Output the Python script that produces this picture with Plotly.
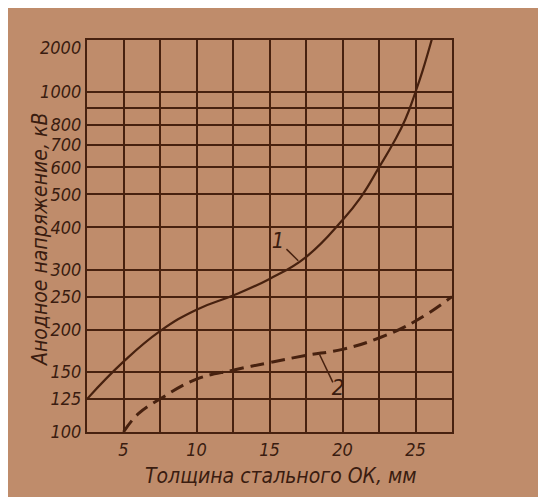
import plotly.graph_objects as go

# ---- data ----
thickness_1 = [2.5, 5, 7.5, 10, 12.5, 15, 17.5, 20, 21.25, 22.5, 23.5, 24.3, 25, 25.5, 26.1, 26.3]
voltage_1 = [125, 161, 198, 229, 252, 282, 327, 420, 490, 600, 710, 830, 1000, 1160, 1420, 1530]

thickness_2 = [5, 6, 7.5, 10, 12.5, 15, 17.5, 20, 22.5, 25, 27.5]
voltage_2 = [100, 113, 125, 143, 152, 160, 168, 175, 189, 212, 250]

x_ticks = [2.5, 5, 7.5, 10, 12.5, 15, 17.5, 20, 22.5, 25, 27.5]
x_ticktext = ["", "5", "", "10", "", "15", "", "20", "", "25", ""]
y_ticks = [100, 125, 150, 200, 250, 300, 400, 500, 600, 700, 800, 900, 1000]
y_ticktext = ["100", "125", "150", "200", "250", "300", "400", "500", "600", "700", "800", "", "1000"]
y_top_label = "2000"

label1_pos = (15.58, 360)
leader1 = ([16.16, 16.97], [345, 319])
label2_pos = (19.7, 133)
leader2 = ([18.43, 19.34], [169, 140])

x_title = "Толщина стального ОК, мм"
y_title = "Анодное напряжение, кВ"

# ---- styles ----
INK = "#47210f"
TXT = "#3a1c10"
PAPER = "#bf8c6b"
FONT = "Liberation Sans Narrow, DejaVu Sans Condensed, DejaVu Sans"

OFF = 8                      # page body margin
SW, SH = 546, 497            # window size
PL, PR, PT, PB = 87, 452, 40, 432   # plot box in window pixels
W, H = SW - OFF, SH - OFF
L, T = PL - OFF, PT - OFF
R, B = SW - PR, SH - PB
pw, ph = PR - PL, PB - PT


def fx(sx):
    return (sx - PL) / pw


def fy(sy):
    return (PB - sy) / ph


fig = go.Figure()
fig.add_trace(go.Scatter(x=thickness_1, y=voltage_1, mode="lines",
                         line=dict(color=INK, width=2.2, shape="spline", smoothing=1.3),
                         showlegend=False, hoverinfo="skip"))
fig.add_trace(go.Scatter(x=thickness_2, y=voltage_2, mode="lines",
                         line=dict(color=INK, width=3, dash="14px,7px", shape="spline", smoothing=1.2),
                         showlegend=False, hoverinfo="skip"))
for lx, ly in (leader1, leader2):
    fig.add_trace(go.Scatter(x=lx, y=ly, mode="lines", line=dict(color=INK, width=1.5),
                             showlegend=False, hoverinfo="skip"))
fig.add_trace(go.Scatter(x=[label1_pos[0], label2_pos[0]], y=[label1_pos[1], label2_pos[1]],
                         mode="text", text=["1", "2"],
                         textfont=dict(family=FONT, size=22, color=TXT, style="italic"),
                         showlegend=False, hoverinfo="skip"))

y_top = 3 + 52 / 340.0
fig.update_layout(
    width=W, height=H,
    margin=dict(l=L, r=R, t=T, b=B, autoexpand=False),
    paper_bgcolor=PAPER,
    plot_bgcolor="rgba(0,0,0,0)",
    xaxis=dict(range=[2.5, 27.5], tickvals=x_ticks, ticktext=x_ticktext,
               showgrid=True, gridcolor=INK, gridwidth=1.5, zeroline=False,
               showline=True, mirror=True, linecolor=INK, linewidth=2.2,
               ticks="", automargin=False,
               tickfont=dict(family=FONT, size=18, color=TXT, style="italic")),
    yaxis=dict(type="log", range=[2, y_top], tickvals=y_ticks, ticktext=y_ticktext,
               showgrid=True, gridcolor=INK, gridwidth=1.5, zeroline=False,
               showline=True, mirror=True, linecolor=INK, linewidth=2.2,
               ticks="", automargin=False,
               tickfont=dict(family=FONT, size=18, color=TXT, style="italic")),
    annotations=[
        dict(text=y_top_label, xref="paper", yref="paper", x=fx(83), y=fy(47),
             xanchor="right", yanchor="middle", showarrow=False,
             font=dict(family=FONT, size=18, color=TXT, style="italic")),
        dict(text=x_title, xref="paper", yref="paper", x=fx(281), y=fy(476),
             xanchor="center", yanchor="middle", showarrow=False,
             font=dict(family=FONT, size=21, color=TXT, style="italic")),
        dict(text=y_title, xref="paper", yref="paper", x=fx(40), y=fy(240),
             xanchor="center", yanchor="middle", showarrow=False, textangle=-90,
             font=dict(family=FONT, size=21, color=TXT, style="italic")),
    ],
)

fig.write_html("out.html")
